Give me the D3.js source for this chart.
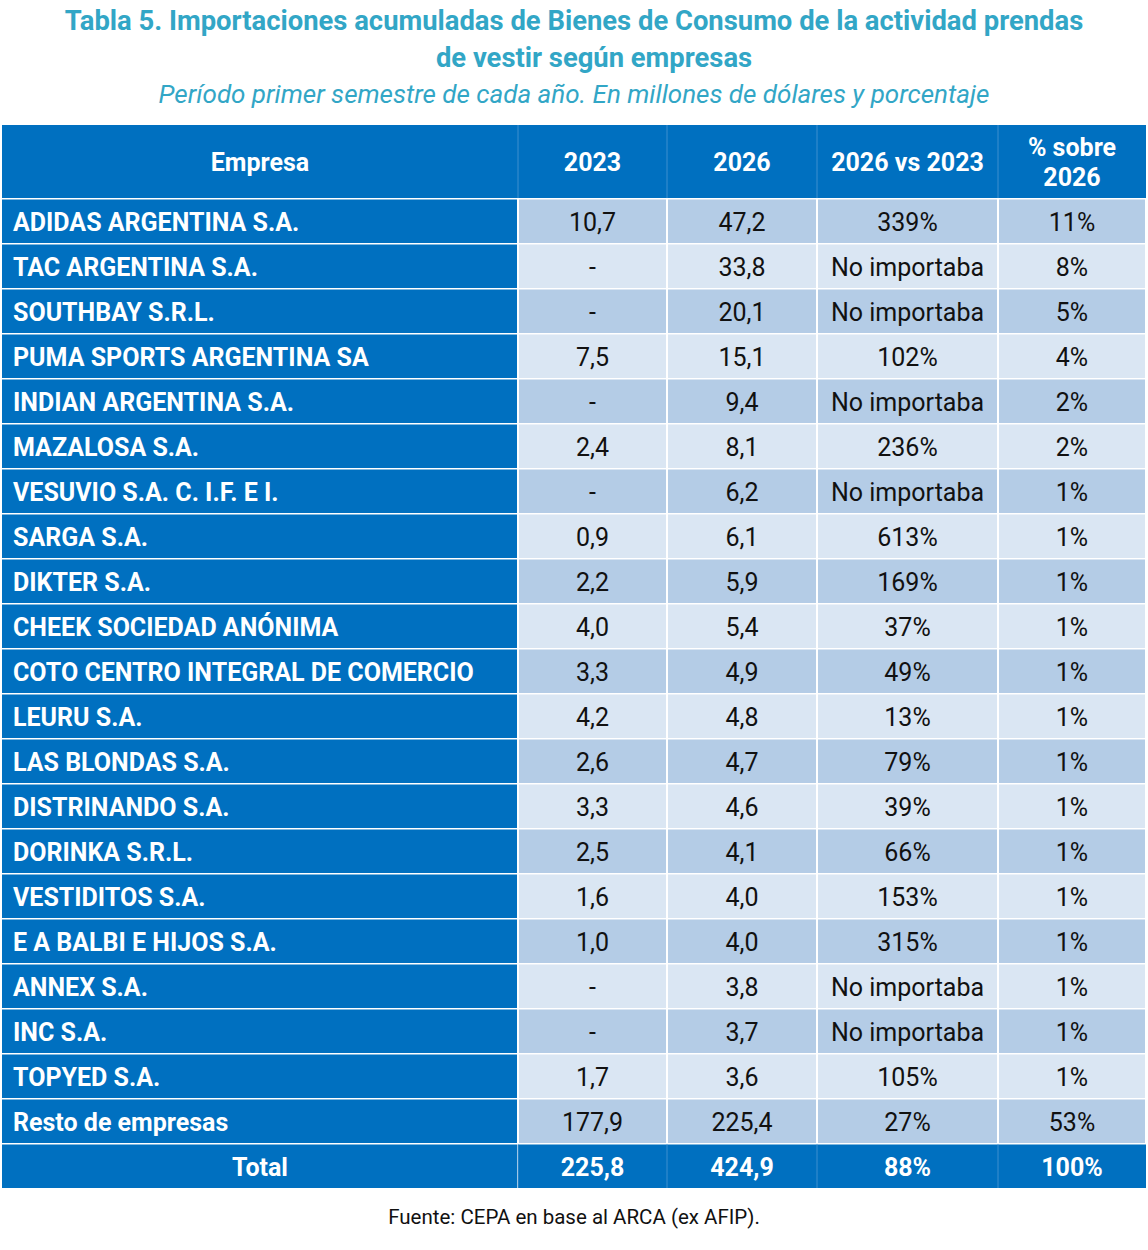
<!DOCTYPE html>
<html>
<head>
<meta charset="utf-8">
<script src="https://cdn.jsdelivr.net/npm/d3@7"></script>
<style>
  body { margin: 0; background: #fff; }
  svg { display: block; font-family: Roboto, sans-serif; }
</style>
</head>
<body>
<svg id="chart"></svg>
<script>
const width = 1148, height = 1250;

const empresas = [
  'ADIDAS ARGENTINA S.A.', 'TAC ARGENTINA S.A.', 'SOUTHBAY S.R.L.',
  'PUMA SPORTS ARGENTINA SA', 'INDIAN ARGENTINA S.A.', 'MAZALOSA S.A.',
  'VESUVIO S.A. C. I.F. E I.', 'SARGA S.A.', 'DIKTER S.A.',
  'CHEEK SOCIEDAD ANÓNIMA', 'COTO CENTRO INTEGRAL DE COMERCIO', 'LEURU S.A.',
  'LAS BLONDAS S.A.', 'DISTRINANDO S.A.', 'DORINKA S.R.L.', 'VESTIDITOS S.A.',
  'E A BALBI E HIJOS S.A.', 'ANNEX S.A.', 'INC S.A.', 'TOPYED S.A.',
  'Resto de empresas'
];
const v2023 = [10.7, null, null, 7.5, null, 2.4, null, 0.9, 2.2, 4.0, 3.3, 4.2,
  2.6, 3.3, 2.5, 1.6, 1.0, null, null, 1.7, 177.9];
const v2026 = [47.2, 33.8, 20.1, 15.1, 9.4, 8.1, 6.2, 6.1, 5.9, 5.4, 4.9, 4.8,
  4.7, 4.6, 4.1, 4.0, 4.0, 3.8, 3.7, 3.6, 225.4];
const variacion = [339, null, null, 102, null, 236, null, 613, 169, 37, 49, 13,
  79, 39, 66, 153, 315, null, null, 105, 27];
const participacion = [11, 8, 5, 4, 2, 2, 1, 1, 1, 1, 1, 1, 1, 1, 1, 1, 1, 1, 1, 1, 53];
const total = { nombre: 'Total', v2023: 225.8, v2026: 424.9, variacion: 88, participacion: 100 };
const encabezados = ['Empresa', '2023', '2026', '2026 vs 2023', ['% sobre', '2026']];

const locale = d3.formatLocale({ decimal: ',', thousands: '.', grouping: [3], currency: ['$', ''] });
const fmtNum = v => v == null ? '-' : locale.format('.1f')(v);
const fmtVar = v => v == null ? 'No importaba' : v + '%';
const fmtPct = v => v + '%';

const blue = '#0070c0', dark = '#b4cce6', light = '#dae6f3', rule = '#3d8fcf';

const rows = empresas.map((e, i) => ({
  nombre: e,
  cells: [fmtNum(v2023[i]), fmtNum(v2026[i]), fmtVar(variacion[i]), fmtPct(participacion[i])]
}));
rows.push({
  nombre: total.nombre, total: true,
  cells: [fmtNum(total.v2023), fmtNum(total.v2026), fmtVar(total.variacion), fmtPct(total.participacion)]
});

// column edges of the table
const edges = [2, 518, 667, 817, 998, 1146];
const headTop = 125, headBottom = 198;

const y = d3.scaleBand()
    .domain(d3.range(rows.length))
    .range([headBottom, headBottom + 45 * rows.length]);

const svg = d3.select('#chart')
    .attr('width', width)
    .attr('height', height)
    .attr('viewBox', `0 0 ${width} ${height}`);

// titles
svg.append('g')
    .attr('text-anchor', 'middle')
    .attr('fill', '#32a6c6')
  .selectAll('text')
  .data([
    { t: 'Tabla 5. Importaciones acumuladas de Bienes de Consumo de la actividad prendas', x: 574, y: 30, w: 700, s: 27.4 },
    { t: 'de vestir según empresas', x: 594, y: 67, w: 700, s: 27.4 },
    { t: 'Período primer semestre de cada año. En millones de dólares y porcentaje', x: 574, y: 103, w: 400, s: 26, it: true }
  ])
  .join('text')
    .attr('x', d => d.x)
    .attr('y', d => d.y)
    .attr('font-size', d => d.s)
    .attr('font-weight', d => d.w)
    .attr('font-style', d => d.it ? 'italic' : null)
    .text(d => d.t);

// header
const head = svg.append('g');
head.append('rect')
    .attr('x', edges[0]).attr('y', headTop)
    .attr('width', edges[5] - edges[0]).attr('height', headBottom - headTop)
    .attr('fill', blue);
head.selectAll('line')
  .data(edges.slice(1, -1))
  .join('line')
    .attr('x1', d => d).attr('x2', d => d)
    .attr('y1', headTop).attr('y2', headBottom)
    .attr('stroke', rule).attr('stroke-width', 1);
head.selectAll('text')
  .data(encabezados)
  .join('text')
    .attr('x', (d, i) => (edges[i] + edges[i + 1]) / 2)
    .attr('y', (headTop + headBottom) / 2)
    .attr('text-anchor', 'middle')
    .attr('fill', '#fff')
    .attr('font-size', 25)
    .attr('font-weight', 700)
    .each(function(d) {
      const lines = Array.isArray(d) ? d : [d];
      d3.select(this).selectAll('tspan')
        .data(lines)
        .join('tspan')
          .attr('x', d3.select(this).attr('x'))
          .attr('dy', (l, j) => j === 0 ? (0.36 - (lines.length - 1) * 0.6) + 'em' : '1.2em')
          .text(l => l);
    });

// body
const row = svg.append('g')
  .selectAll('g')
  .data(rows)
  .join('g')
    .attr('transform', (d, i) => `translate(0,${y(i)})`);

const cellsOf = (d, i) => [d.nombre].concat(d.cells).map((c, j) => ({ c, j, i, total: d.total }));

row.selectAll('rect')
  .data(cellsOf)
  .join('rect')
    .attr('x', d => edges[d.j] + (d.j === 0 || d.total ? 0 : 1))
    .attr('y', 1.5)
    .attr('width', d => edges[d.j + 1] - edges[d.j] - (d.j === 0 ? 1 : d.total ? 0 : 2))
    .attr('height', y.bandwidth() - 1.5)
    .attr('fill', d => d.total || d.j === 0 ? blue : (d.i % 2 === 0 ? dark : light));

// faint separators inside the total row
row.filter(d => d.total)
  .selectAll('line')
  .data(edges.slice(1, -1))
  .join('line')
    .attr('x1', d => d).attr('x2', d => d)
    .attr('y1', 1.5).attr('y2', y.bandwidth())
    .attr('stroke', rule).attr('stroke-width', 1);

row.selectAll('text')
  .data(cellsOf)
  .join('text')
    .attr('x', d => d.j === 0 && !d.total ? edges[0] + 11 : (edges[d.j] + edges[d.j + 1]) / 2)
    .attr('y', y.bandwidth() / 2 + 1)
    .attr('dy', '0.36em')
    .attr('text-anchor', d => d.j === 0 && !d.total ? 'start' : 'middle')
    .attr('font-size', 25)
    .attr('font-weight', d => d.j === 0 || d.total ? 700 : 400)
    .attr('fill', d => d.j === 0 || d.total ? '#fff' : '#111')
    .text(d => d.c);

// source
svg.append('text')
    .attr('x', width / 2)
    .attr('y', 1224)
    .attr('text-anchor', 'middle')
    .attr('font-size', 20.5)
    .attr('fill', '#111')
    .text('Fuente: CEPA en base al ARCA (ex AFIP).');
</script>
</body>
</html>
